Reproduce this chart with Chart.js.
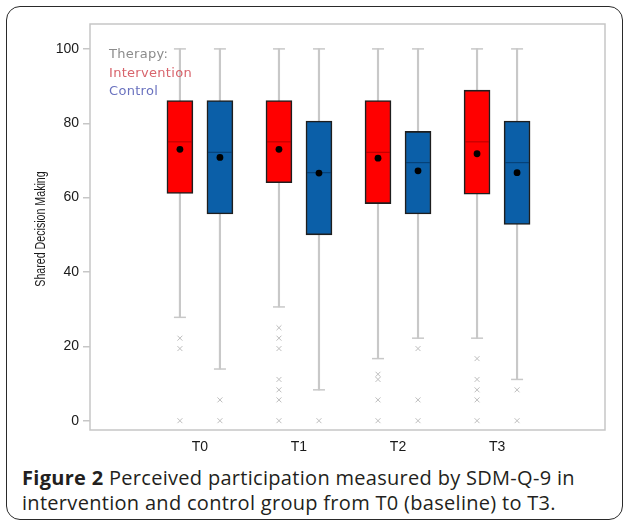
<!DOCTYPE html>
<html>
<head>
<meta charset="utf-8">
<script src="https://cdn.jsdelivr.net/npm/chart.js@4.4.0/dist/chart.umd.min.js"></script>
<style>
  body { margin: 0; background: #fff; width: 624px; height: 524px; overflow: hidden; position: relative; }
  #card {
    position: absolute; left: 6px; top: 6px; width: 617px; height: 514px;
    border: 1.5px solid #2a2a2a; border-radius: 14px; box-sizing: border-box;
  }
  #plot { position: absolute; left: 0; top: 0; }
  #caption {
    position: absolute; left: 22px; top: 465px; width: 596px;
    font-family: "Open Sans", sans-serif; font-size: 20px; line-height: 25px;
    letter-spacing: 0.3px; color: #231f20;
  }
  #caption b { font-weight: 700; }
</style>
</head>
<body>
<div id="card"></div>
<canvas id="plot" width="624" height="460"></canvas>
<div id="caption"><b>Figure 2</b> Perceived participation measured by SDM-Q-9 in<br>intervention and control group from T0 (baseline) to T3.</div>
<script>
const categories = ["T0", "T1", "T2", "T3"];
const legendLines = ["Therapy:", "Intervention", "Control"];
const yTitle = "Shared Decision Making";

// Intervention group
const interventionLow = [27.8, 30.6, 16.7, 22.2];
const interventionQ1 = [61.1, 64.0, 58.4, 60.9];
const interventionMedian = [75.0, 75.0, 72.2, 75.0];
const interventionQ3 = [86.1, 86.1, 86.1, 88.9];
const interventionHigh = [100, 100, 100, 100];
const interventionMean = [73.0, 73.0, 70.6, 71.8];
const interventionOutliers = [
  [22.2, 19.4, 0],
  [25.0, 22.2, 19.4, 11.1, 8.3, 5.6, 0],
  [12.5, 11.1, 5.6, 0],
  [16.7, 11.1, 8.3, 5.6, 0]
];

// Control group
const controlLow = [13.9, 8.3, 22.2, 11.1];
const controlQ1 = [55.6, 50.0, 55.6, 52.8];
const controlMedian = [72.2, 66.7, 69.4, 69.4];
const controlQ3 = [86.1, 80.6, 77.8, 80.6];
const controlHigh = [100, 100, 100, 100];
const controlMean = [70.8, 66.6, 67.2, 66.7];
const controlOutliers = [
  [5.6, 0],
  [0],
  [19.4, 5.6, 0],
  [8.3, 0]
];

const yTicks = [0, 20, 40, 60, 80, 100];

const RED = "#ff0000";
const BLUE = "#0b5fa8";
const WHISKER = "#c8c8c8";
const shift = 0.202;

const pos = (i, side) => i + side * shift;

const boxData = (q1, q3, side) => q1.map((v, i) => ({ x: pos(i, side), y: [v, q3[i]] }));
const whiskerData = (lo, hi, side) => lo.map((v, i) => ({ x: pos(i, side), y: [v, hi[i]] }));
const pointData = (vals, side) => vals.map((v, i) => ({ x: pos(i, side), y: v }));
const capData = (lo, hi, side) => lo.flatMap((v, i) => [{ x: pos(i, side), y: v }, { x: pos(i, side), y: hi[i] }]);
const outlierData = (groups, side) => groups.flatMap((g, i) => g.map(v => ({ x: pos(i, side), y: v })));

const framePlugin = {
  id: "frame",
  beforeDatasetsDraw(chart) {
    const { ctx, chartArea: a } = chart;
    ctx.save();
    ctx.strokeStyle = "#c6c6c6";
    ctx.lineWidth = 1.5;
    ctx.strokeRect(a.left, a.top, a.right - a.left, a.bottom - a.top);
    ctx.restore();
  }
};

// y title, slightly condensed along its length like the original figure
const yTitlePlugin = {
  id: "yTitle",
  afterDraw(chart) {
    const { ctx, chartArea: a } = chart;
    ctx.save();
    ctx.translate(41, (a.top + a.bottom) / 2 + 2);
    ctx.rotate(-Math.PI / 2);
    ctx.scale(0.76, 1);
    ctx.font = "14px 'Liberation Sans'";
    ctx.fillStyle = "#1a1a1a";
    ctx.textAlign = "center";
    ctx.textBaseline = "middle";
    ctx.fillText(yTitle, 0, 0);
    ctx.restore();
  }
};

const legendPlugin = {
  id: "therapyLegend",
  afterDraw(chart) {
    const { ctx, chartArea: a } = chart;
    const colors = ["#8c8c8c", "#d8646c", "#6a72bf"];
    ctx.save();
    ctx.font = "13px 'DejaVu Sans'";
    ctx.letterSpacing = "0.3px";
    ctx.textBaseline = "middle";
    ctx.textAlign = "left";
    legendLines.forEach((t, k) => {
      ctx.fillStyle = colors[k];
      ctx.fillText(t, a.left + 19, a.top + 31 + k * 18.5);
    });
    ctx.restore();
  }
};

const ctx = document.getElementById("plot").getContext("2d");

new Chart(ctx, {
  type: "bar",
  data: {
    datasets: [
      { type: "scatter", order: 0, data: pointData(interventionMean, -1), pointStyle: "circle", pointRadius: 3.4, backgroundColor: "#000", borderColor: "#000", borderWidth: 0 },
      { type: "scatter", order: 0, data: pointData(controlMean, 1), pointStyle: "circle", pointRadius: 3.4, backgroundColor: "#000", borderColor: "#000", borderWidth: 0 },
      { type: "scatter", order: 1, data: pointData(interventionMedian, -1), pointStyle: "line", pointRadius: 12, borderColor: "#b40000", borderWidth: 1 },
      { type: "scatter", order: 1, data: pointData(controlMedian, 1), pointStyle: "line", pointRadius: 12, borderColor: "#063d70", borderWidth: 1 },
      { type: "scatter", order: 2, data: capData(interventionLow, interventionHigh, -1), pointStyle: "line", pointRadius: 6, borderColor: WHISKER, borderWidth: 1.5 },
      { type: "scatter", order: 2, data: capData(controlLow, controlHigh, 1), pointStyle: "line", pointRadius: 6, borderColor: WHISKER, borderWidth: 1.5 },
      { type: "scatter", order: 3, data: outlierData(interventionOutliers, -1), pointStyle: "crossRot", pointRadius: 3.5, borderColor: "#bdbdbd", borderWidth: 1 },
      { type: "scatter", order: 3, data: outlierData(controlOutliers, 1), pointStyle: "crossRot", pointRadius: 3.5, borderColor: "#bdbdbd", borderWidth: 1 },
      { label: "Intervention", order: 4, data: boxData(interventionQ1, interventionQ3, -1), backgroundColor: RED, borderColor: "#1e1e1e", borderWidth: 1.6, borderSkipped: false, barThickness: 26, grouped: false },
      { label: "Control", order: 4, data: boxData(controlQ1, controlQ3, 1), backgroundColor: BLUE, borderColor: "#1e1e1e", borderWidth: 1.6, borderSkipped: false, barThickness: 26, grouped: false },
      { order: 5, data: whiskerData(interventionLow, interventionHigh, -1), backgroundColor: WHISKER, borderWidth: 0, barThickness: 1.5, grouped: false },
      { order: 5, data: whiskerData(controlLow, controlHigh, 1), backgroundColor: WHISKER, borderWidth: 0, barThickness: 1.5, grouped: false }
    ]
  },
  options: {
    responsive: false,
    animation: false,
    layout: { padding: { left: 30, right: 19, top: 24, bottom: 8 } },
    plugins: {
      legend: { display: false },
      tooltip: { enabled: false }
    },
    scales: {
      x: {
        type: "linear",
        min: -1.11,
        max: 4.09,
        offset: false,
        grid: { display: false, offset: false },
        border: { display: false },
        afterBuildTicks: (axis) => { axis.ticks = categories.map((c, i) => ({ value: i })); },
        afterFit: (axis) => { axis.height = 22; },
        ticks: {
          autoSkip: false,
          maxRotation: 0,
          padding: 1,
          color: "#1a1a1a",
          font: { family: "'Liberation Sans'", size: 14 },
          callback: (v) => categories[v]
        }
      },
      y: {
        type: "linear",
        min: -2.5,
        max: 106.7,
        afterBuildTicks: (axis) => { axis.ticks = yTicks.map(v => ({ value: v })); },
        afterFit: (axis) => { axis.width = 60; },
        grid: { drawOnChartArea: false, drawTicks: true, tickLength: 7, color: "#c6c6c6", lineWidth: 1.5 },
        border: { display: false },
        ticks: {
          padding: 4,
          color: "#1a1a1a",
          font: { family: "'Liberation Sans'", size: 14 }
        }
      }
    }
  },
  plugins: [framePlugin, yTitlePlugin, legendPlugin]
});
</script>
</body>
</html>
